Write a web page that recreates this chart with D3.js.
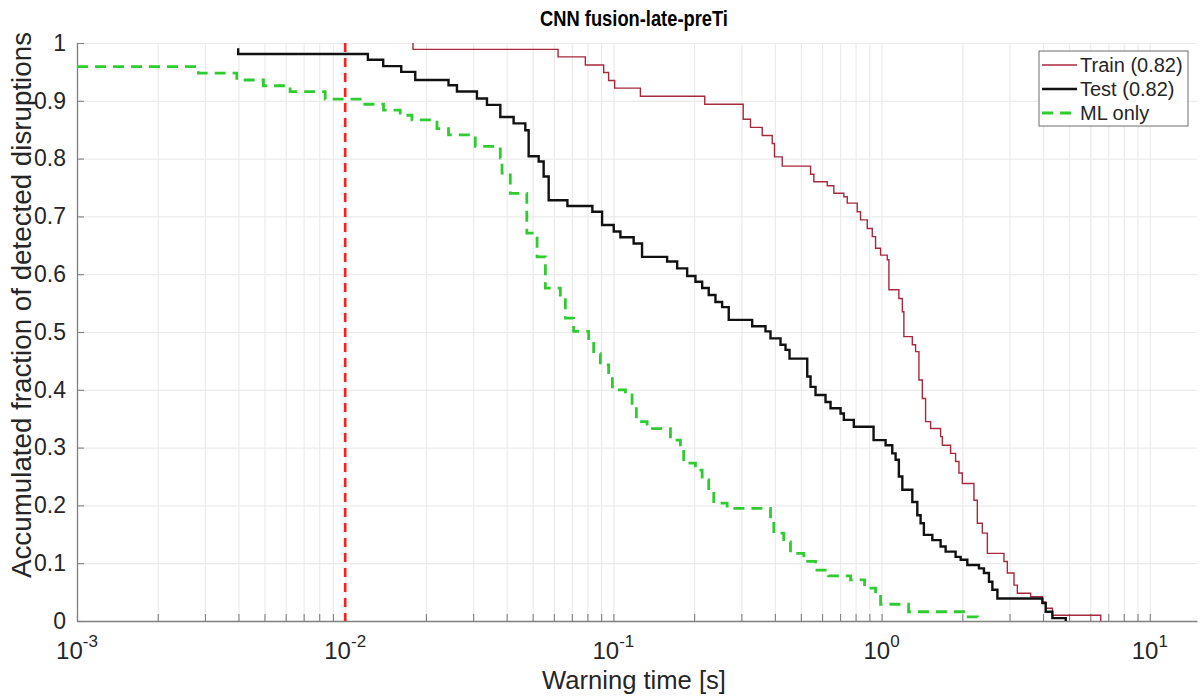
<!DOCTYPE html>
<html><head><meta charset="utf-8">
<script src="https://cdn.jsdelivr.net/npm/d3@7"></script>
<style>
html,body{margin:0;padding:0;background:#fff;}
text{font-family:"Liberation Sans",Arial,Helvetica,sans-serif;}
</style></head><body>
<svg id="chart" width="1200" height="697"></svg>
<script>
const chartTitle = "CNN fusion-late-preTi";
const xLabel = "Warning time [s]";
const yLabel = "Accumulated fraction of detected disruptions";
const seriesNames = ["Train (0.82)", "Test (0.82)", "ML only"];
const xDomain = [1e-3, 15];
const xTickValues = [1e-3, 1e-2, 1e-1, 1, 10];
const xTickExponents = ["-3", "-2", "-1", "0", "1"];
const yTickValues = [0, 0.1, 0.2, 0.3, 0.4, 0.5, 0.6, 0.7, 0.8, 0.9, 1];
const yTickLabels = ["0", "0.1", "0.2", "0.3", "0.4", "0.5", "0.6", "0.7", "0.8", "0.9", "1"];
const thresholdTime = 0.01;

// [warning time (s), fraction after the step]
const trainSteps = [
  [0.0179,1.0],[0.0179,0.989],[0.0622,0.976],[0.0786,0.962],[0.0920,0.949],[0.0960,0.935],
  [0.1011,0.922],[0.1261,0.908],[0.2191,0.894],[0.3048,0.868],[0.3245,0.854],[0.3588,0.840],
  [0.3911,0.826],[0.3988,0.803],[0.4261,0.787],[0.5434,0.773],[0.5591,0.760],[0.6273,0.753],
  [0.6637,0.740],[0.7234,0.734],[0.7447,0.723],[0.8114,0.708],[0.8347,0.694],[0.8843,0.679],
  [0.9232,0.665],[0.9497,0.645],[0.9915,0.633],[1.050,0.625],[1.065,0.573],[1.160,0.558],
  [1.195,0.535],[1.211,0.492],[1.302,0.478],[1.339,0.466],[1.378,0.417],[1.419,0.385],
  [1.459,0.345],[1.523,0.333],[1.660,0.319],[1.685,0.304],[1.809,0.290],[1.888,0.276],
  [1.943,0.256],[2.000,0.238],[2.210,0.209],[2.275,0.169],[2.375,0.152],[2.480,0.117],
  [2.860,0.103],[2.944,0.083],[3.117,0.062],[3.208,0.048],[3.597,0.042],[3.978,0.033],
  [4.092,0.022],[4.334,0.010],[6.565,0]
];
const testSteps = [
  [0.00399,0.991],[0.00399,0.981],[0.01215,0.971],[0.01386,0.960],[0.01618,0.950],[0.01825,0.936],
  [0.02428,0.927],[0.02610,0.916],[0.03099,0.904],[0.03378,0.893],[0.03788,0.872],[0.04246,0.861],
  [0.04695,0.849],[0.04831,0.804],[0.05265,0.795],[0.05495,0.769],[0.05737,0.728],[0.06738,0.718],
  [0.08347,0.708],[0.09074,0.685],[0.1003,0.674],[0.1062,0.664],[0.1190,0.653],[0.1279,0.630],
  [0.1586,0.622],[0.1729,0.610],[0.1884,0.597],[0.2023,0.587],[0.2143,0.576],[0.2267,0.564],
  [0.2402,0.552],[0.2544,0.543],[0.2692,0.521],[0.3293,0.510],[0.3691,0.501],[0.3853,0.489],
  [0.4199,0.478],[0.4384,0.469],[0.4537,0.454],[0.5282,0.423],[0.5434,0.405],[0.5672,0.391],
  [0.6180,0.379],[0.6452,0.368],[0.7031,0.359],[0.7234,0.348],[0.7880,0.336],[0.9335,0.313],
  [1.035,0.304],[1.096,0.290],[1.128,0.279],[1.160,0.250],[1.195,0.227],[1.302,0.206],
  [1.359,0.183],[1.398,0.169],[1.438,0.149],[1.546,0.140],[1.660,0.129],[1.733,0.120],
  [1.888,0.111],[1.972,0.106],[2.088,0.097],[2.307,0.091],[2.408,0.083],[2.514,0.068],
  [2.589,0.054],[2.703,0.039],[3.978,0.031],[4.092,0.016],[4.334,0.005],[4.860,0]
];
const mlOnlySteps = [
  [0.001,0.959],[0.002836,0.948],[0.003944,0.936],[0.004956,0.926],[0.006233,0.916],[0.008422,0.903],
  [0.01154,0.894],[0.01390,0.884],[0.01604,0.875],[0.01774,0.867],[0.02199,0.852],[0.02428,0.841],
  [0.03055,0.821],[0.03788,0.801],[0.03843,0.775],[0.04126,0.740],[0.04756,0.671],[0.05193,0.630],
  [0.05577,0.576],[0.06341,0.564],[0.06620,0.524],[0.07108,0.501],[0.08087,0.486],[0.08443,0.463],
  [0.08943,0.443],[0.0960,0.423],[0.09915,0.400],[0.1109,0.391],[0.1174,0.371],[0.1218,0.345],
  [0.1336,0.333],[0.1632,0.313],[0.1778,0.296],[0.1829,0.273],[0.2023,0.261],[0.2143,0.244],
  [0.2267,0.224],[0.2367,0.204],[0.2656,0.195],[0.3853,0.175],[0.3964,0.152],[0.4318,0.137],
  [0.4574,0.117],[0.5129,0.103],[0.5672,0.088],[0.6341,0.078],[0.7661,0.071],[0.8642,0.057],
  [0.9497,0.047],[0.9915,0.029],[1.261,0.016],[2.058,0.007],[2.281,0]
];

const W = 1200, H = 697;
const plot = {left: 77, right: 1197, top: 43, bottom: 621};
const svg = d3.select("#chart");
svg.append("rect").attr("width", W).attr("height", H).attr("fill", "#fff");

const x = d3.scaleLog().domain(xDomain).range([plot.left, plot.right]);
const y = d3.scaleLinear().domain([0, 1]).range([plot.bottom, plot.top]);

const gridColor = "#ebebeb";
const axisColor = "#808080";
const textColor = "#262626";

// fit a text element's font size so it spans the target width
function fitText(sel, target) {
  const fs = parseFloat(sel.attr("font-size"));
  const w = sel.node().getComputedTextLength();
  if (w > 0) sel.attr("font-size", (fs * target / w).toFixed(2));
}

// grid
const xGrid = svg.append("g").attr("transform", `translate(0,${plot.bottom})`)
  .call(d3.axisBottom(x).tickValues(x.ticks()).tickSize(-(plot.bottom - plot.top)).tickSizeOuter(0).tickFormat(""));
xGrid.select(".domain").remove();
xGrid.selectAll("line").attr("stroke", gridColor).attr("stroke-width", 1.2);

const yGrid = svg.append("g").attr("transform", `translate(${plot.left},0)`)
  .call(d3.axisLeft(y).tickValues(yTickValues).tickSize(-(plot.right - plot.left)).tickSizeOuter(0).tickFormat(""));
yGrid.select(".domain").remove();
yGrid.selectAll("line").attr("stroke", gridColor).attr("stroke-width", 1.2);

// axes
const xAxis = svg.append("g").attr("transform", `translate(0,${plot.bottom})`)
  .call(d3.axisBottom(x).tickValues(x.ticks()).tickSize(-7).tickSizeOuter(0).tickFormat(""));
xAxis.select(".domain").attr("stroke", axisColor).attr("stroke-width", 1.3);
xAxis.selectAll(".tick line").attr("stroke", axisColor).attr("stroke-width", 1.1);

const yAxis = svg.append("g").attr("transform", `translate(${plot.left},0)`)
  .call(d3.axisLeft(y).tickValues(yTickValues).tickSize(-7).tickSizeOuter(0)
    .tickPadding(11).tickFormat((d, i) => yTickLabels[i]));
yAxis.select(".domain").attr("stroke", axisColor).attr("stroke-width", 1.3);
yAxis.selectAll(".tick line").attr("stroke", axisColor).attr("stroke-width", 1.1);
yAxis.selectAll(".tick text").attr("fill", textColor).attr("font-size", 23)
  .attr("font-family", '"Liberation Sans",Arial,sans-serif');

// x tick labels with superscripts
const xl = svg.append("g");
xTickValues.forEach((v, i) => {
  const t = xl.append("text").attr("x", x(v)).attr("y", 659)
    .attr("text-anchor", "middle").attr("fill", textColor).attr("font-size", 24);
  t.append("tspan").text("10");
  t.append("tspan").attr("dy", -12).attr("font-size", 17).text(xTickExponents[i]);
});

// series
const line = d3.line().x(d => x(d[0])).y(d => y(d[1])).curve(d3.curveStepAfter);
svg.append("path").datum(trainSteps).attr("d", line)
  .attr("fill", "none").attr("stroke", "#a8283c").attr("stroke-width", 1.4);
svg.append("path").datum(testSteps).attr("d", line)
  .attr("fill", "none").attr("stroke", "#111").attr("stroke-width", 2.4);
svg.append("path").datum(mlOnlySteps).attr("d", line)
  .attr("fill", "none").attr("stroke", "#2fcc2f").attr("stroke-width", 2.8)
  .attr("stroke-dasharray", "11,7");

// threshold line
svg.append("line").attr("x1", x(thresholdTime)).attr("x2", x(thresholdTime))
  .attr("y1", y(1)).attr("y2", y(0))
  .attr("stroke", "#ff1f1f").attr("stroke-width", 2.6).attr("stroke-dasharray", "9,6");

// title and labels
const titleG = svg.append("g").attr("transform", "translate(634,26) scale(0.86,1)");
const titleSel = titleG.append("text").attr("x", 0).attr("y", 0).attr("text-anchor", "middle")
  .attr("font-size", 21).attr("font-weight", "bold").attr("fill", "#000").text(chartTitle);
fitText(titleSel, 188 / 0.86);
const xlabSel = svg.append("text").attr("x", 634).attr("y", 689).attr("text-anchor", "middle")
  .attr("font-size", 25.5).attr("fill", textColor).text(xLabel);
fitText(xlabSel, 184);
const ylabSel = svg.append("text").attr("transform", "translate(31,305) rotate(-90)").attr("text-anchor", "middle")
  .attr("font-size", 27.5).attr("fill", textColor).text(yLabel);
fitText(ylabSel, 546);

// legend
const lg = svg.append("g");
lg.append("rect").attr("x", 1039).attr("y", 51).attr("width", 149).attr("height", 75)
  .attr("fill", "#fff").attr("stroke", "#6e6e6e").attr("stroke-width", 1);
const legendStyles = [
  {color: "#a8283c", width: 1.4, dash: null},
  {color: "#111", width: 2.4, dash: null},
  {color: "#2fcc2f", width: 2.8, dash: "11,7"}
];
seriesNames.forEach((name, i) => {
  const cy = 65 + i * 24;
  const s = legendStyles[i];
  const l = lg.append("line").attr("x1", 1042).attr("x2", 1077).attr("y1", cy).attr("y2", cy)
    .attr("stroke", s.color).attr("stroke-width", s.width);
  if (s.dash) l.attr("stroke-dasharray", s.dash);
  lg.append("text").attr("x", 1080).attr("y", cy + 7).attr("font-size", 20)
    .attr("fill", textColor).text(name);
});
</script>
</body></html>
